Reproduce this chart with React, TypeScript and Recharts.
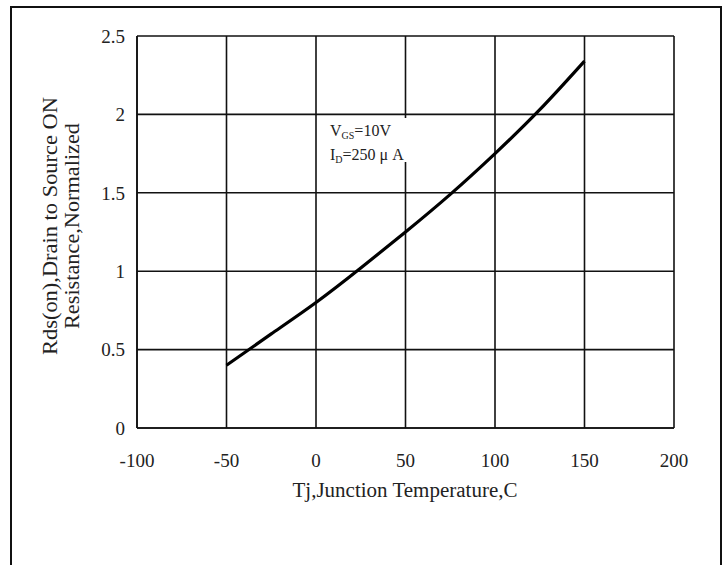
import { CartesianGrid, Customized, Line, LineChart, XAxis, YAxis } from "recharts";

const temps = [-50, -25, 0, 25, 50, 75, 100, 125, 150];
const rdsNorm = [0.4, 0.6, 0.8, 1.02, 1.25, 1.49, 1.75, 2.03, 2.34];
const xTicks = [-100, -50, 0, 50, 100, 150, 200];
const yTicks = [0, 0.5, 1, 1.5, 2, 2.5];

const FONT = '"Liberation Serif", "Times New Roman", serif';

const data = temps.map((t, i) => ({ t, r: rdsNorm[i] }));

function Annotation() {
  return (
    <g fontFamily={FONT} fill="#222">
      {/* the test-condition note sits on a white patch that hides the grid behind it */}
      <rect x={326} y={118} width={84} height={44} fill="#fff" />
      <text x={330} y={136} fontSize={16}>
        V<tspan fontSize={10} dy={3}>GS</tspan>
        <tspan dy={-3}>=10V</tspan>
      </text>
      <text x={330} y={160} fontSize={16}>
        I<tspan fontSize={10} dy={3}>D</tspan>
        <tspan dy={-3}>=250 μ A</tspan>
      </text>
      <g transform="translate(57 226) rotate(-90)">
        <text x={0} y={0} textAnchor="middle" fontSize={20} textLength={258} lengthAdjust="spacingAndGlyphs">
          Rds(on),Drain to Source ON
        </text>
        <text x={0} y={22} textAnchor="middle" fontSize={20} textLength={206} lengthAdjust="spacingAndGlyphs">
          Resistance,Normalized
        </text>
      </g>
      <text x={405} y={497} textAnchor="middle" fontSize={20} textLength={225} lengthAdjust="spacingAndGlyphs">
        Tj,Junction Temperature,C
      </text>
    </g>
  );
}

export default function App() {
  return (
    <div style={{ position: "absolute", left: 0, top: 0, width: 726, height: 565, background: "#fff", overflow: "hidden" }}>
      <div
        style={{
          position: "absolute",
          left: 10,
          top: 6,
          width: 708,
          height: 620,
          border: "2px solid #111",
        }}
      />
      <div style={{ position: "absolute", left: 0, top: 0 }}>
        <LineChart width={726} height={565} data={data} margin={{ top: 36, right: 52, left: 77, bottom: 97 }}>
          <CartesianGrid stroke="#111" strokeWidth={1.6} />
          <XAxis
            dataKey="t"
            type="number"
            domain={[-100, 200]}
            ticks={xTicks}
            height={40}
            tickLine={false}
            tickSize={0}
            tickMargin={26}
            axisLine={{ stroke: "#111", strokeWidth: 1.6 }}
            tick={{ fill: "#222", fontSize: 19, fontFamily: FONT }}
          />
          <YAxis
            type="number"
            domain={[0, 2.5]}
            ticks={yTicks}
            width={60}
            tickLine={false}
            tickSize={0}
            tickMargin={12}
            axisLine={{ stroke: "#111", strokeWidth: 1.6 }}
            tick={{ fill: "#222", fontSize: 19, fontFamily: FONT }}
          />
          <Customized component={Annotation} />
          <Line
            dataKey="r"
            type="natural"
            stroke="#000"
            strokeWidth={3.2}
            dot={false}
            isAnimationActive={false}
          />
        </LineChart>
      </div>
    </div>
  );
}
